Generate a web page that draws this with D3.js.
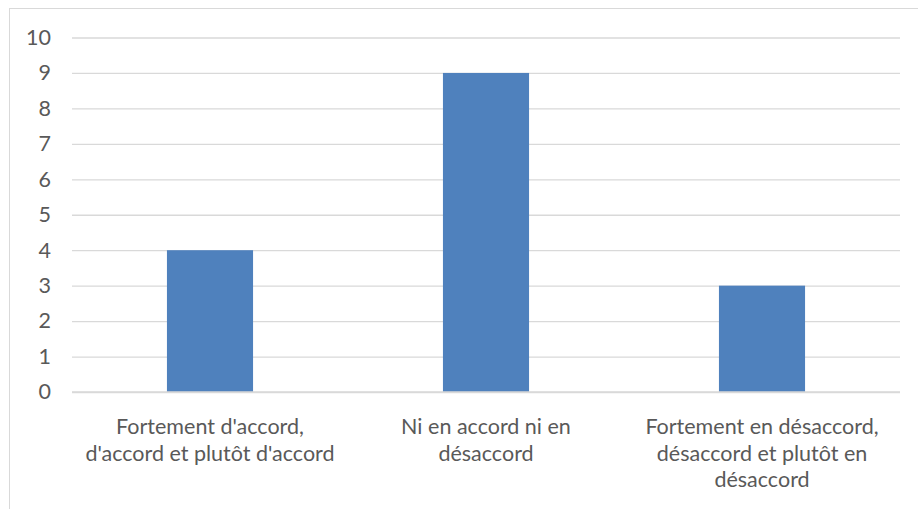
<!DOCTYPE html>
<html>
<head>
<meta charset="utf-8">
<script src="https://cdn.jsdelivr.net/npm/d3@7"></script>
<style>
  html, body { margin: 0; padding: 0; background: #fff; }
  svg { display: block; }
  text { font-family: Lato, "Open Sans", sans-serif; fill: #595959; }
</style>
</head>
<body>
<svg id="chart" width="918" height="509"></svg>
<script>
// Survey answers grouped into three categories
const categories = [
  "Fortement d'accord, d'accord et plutôt d'accord",
  "Ni en accord ni en désaccord",
  "Fortement en désaccord, désaccord et plutôt en désaccord"
];
const categoryLines = [
  ["Fortement d'accord,", "d'accord et plutôt d'accord"],
  ["Ni en accord ni en", "désaccord"],
  ["Fortement en désaccord,", "désaccord et plutôt en", "désaccord"]
];
const values = [4, 9, 3];
const yTicks = [0, 1, 2, 3, 4, 5, 6, 7, 8, 9, 10];

const svg = d3.select("#chart");
const W = 918, H = 509;
const plot = { left: 72, right: 900, top: 37.5, bottom: 392 };
const fontSize = 21.5;

// outer chart frame
svg.append("rect")
  .attr("x", 9.5).attr("y", 8.5)
  .attr("width", W + 10).attr("height", H + 10)
  .attr("fill", "none").attr("stroke", "#d9d9d9").attr("stroke-width", 1);

const x = d3.scaleBand()
  .domain(categories)
  .range([plot.left, plot.right])
  .paddingInner(0.688)
  .paddingOuter(0.344);

const y = d3.scaleLinear().domain([0, 10]).range([plot.bottom, plot.top]);

// horizontal gridlines and value labels
const yAxis = d3.axisLeft(y)
  .tickValues(yTicks)
  .tickSize(-(plot.right - plot.left))
  .tickPadding(21)
  .tickFormat(d3.format("d"));

const gy = svg.append("g")
  .attr("transform", `translate(${plot.left},0)`)
  .call(yAxis);
gy.select(".domain").remove();
gy.selectAll(".tick line").attr("stroke", "#d9d9d9").attr("stroke-width", 1.3);
gy.selectAll(".tick text")
  .attr("font-size", fontSize)
  .attr("fill", "#595959")
  .style("font-family", "Lato, 'Open Sans', sans-serif");

// bars
svg.append("g").selectAll("rect")
  .data(values)
  .join("rect")
  .attr("x", (d, i) => x(categories[i]))
  .attr("y", d => y(d))
  .attr("width", x.bandwidth())
  .attr("height", d => y(0) - y(d))
  .attr("fill", "#4f81bd");

// baseline
svg.append("line")
  .attr("x1", plot.left).attr("x2", plot.right)
  .attr("y1", y(0)).attr("y2", y(0))
  .attr("stroke", "#d9d9d9").attr("stroke-width", 1.3);

// category labels, wrapped
const labels = svg.append("g").selectAll("text")
  .data(categories)
  .join("text")
  .attr("text-anchor", "middle")
  .attr("font-size", fontSize)
  .attr("x", d => x(d) + x.bandwidth() / 2)
  .attr("y", 434);

labels.each(function (d, i) {
  const t = d3.select(this);
  categoryLines[i].forEach((line, k) => {
    t.append("tspan")
      .attr("x", x(d) + x.bandwidth() / 2)
      .attr("dy", k === 0 ? 0 : 26.5)
      .text(line);
  });
});
</script>
</body>
</html>
